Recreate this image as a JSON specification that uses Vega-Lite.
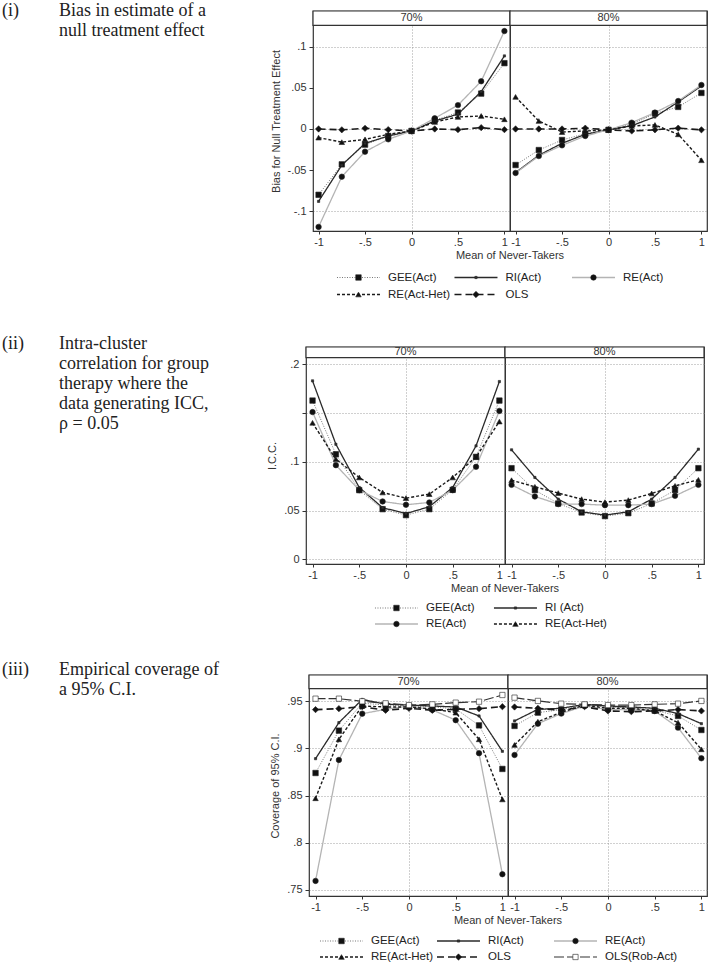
{
"$schema": "https://vega.github.io/schema/vega-lite/v6.json",
"background": "white",
"padding": {"left": 2, "top": 2, "right": 2, "bottom": 2},
"config": {
 "view": {"stroke": "#333", "strokeWidth": 1.2},
 "font": "Liberation Sans",
 "axis": {"labelFont": "Liberation Sans", "labelFontSize": 11, "labelColor": "#333", "titleFont": "Liberation Sans", "titleFontSize": 11, "titleFontWeight": "normal", "titleColor": "#333", "domain": false, "tickColor": "#333", "tickSize": 3, "gridDash": [1, 2], "gridColor": "#888", "gridWidth": 0.8},
 "title": {"font": "Liberation Sans", "fontSize": 11, "fontWeight": "normal", "color": "#333"}
},
"datasets": {
 "T": [
  {"p":"i","part":"num","line":1,"t":"(i)"},
  {"p":"i","part":"desc","line":1,"t":"Bias in estimate of a"},
  {"p":"i","part":"desc","line":2,"t":"null treatment effect"},
  {"p":"ii","part":"num","line":1,"t":"(ii)"},
  {"p":"ii","part":"desc","line":1,"t":"Intra-cluster"},
  {"p":"ii","part":"desc","line":2,"t":"correlation for group"},
  {"p":"ii","part":"desc","line":3,"t":"therapy where the"},
  {"p":"ii","part":"desc","line":4,"t":"data generating ICC,"},
  {"p":"ii","part":"desc","line":5,"t":" ρ = 0.05"},
  {"p":"iii","part":"num","line":1,"t":"(iii)"},
  {"p":"iii","part":"desc","line":1,"t":"Empirical coverage of"},
  {"p":"iii","part":"desc","line":2,"t":"a 95% C.I."}
 ],
 "L": [
  {"p":"i","m":"GEE(Act)","lab":"GEE(Act)","lr":1,"lc":1},
  {"p":"i","m":"RI(Act)","lab":"RI(Act)","lr":1,"lc":2},
  {"p":"i","m":"RE(Act)","lab":"RE(Act)","lr":1,"lc":3},
  {"p":"i","m":"RE(Act-Het)","lab":"RE(Act-Het)","lr":2,"lc":1},
  {"p":"i","m":"OLS","lab":"OLS","lr":2,"lc":2},
  {"p":"ii","m":"GEE(Act)","lab":"GEE(Act)","lr":1,"lc":1},
  {"p":"ii","m":"RI(Act)","lab":"RI (Act)","lr":1,"lc":2},
  {"p":"ii","m":"RE(Act)","lab":"RE(Act)","lr":2,"lc":1},
  {"p":"ii","m":"RE(Act-Het)","lab":"RE(Act-Het)","lr":2,"lc":2},
  {"p":"iii","m":"GEE(Act)","lab":"GEE(Act)","lr":1,"lc":1},
  {"p":"iii","m":"RI(Act)","lab":"RI(Act)","lr":1,"lc":2},
  {"p":"iii","m":"RE(Act)","lab":"RE(Act)","lr":1,"lc":3},
  {"p":"iii","m":"RE(Act-Het)","lab":"RE(Act-Het)","lr":2,"lc":1},
  {"p":"iii","m":"OLS","lab":"OLS","lr":2,"lc":2},
  {"p":"iii","m":"OLS(Rob-Act)","lab":"OLS(Rob-Act)","lr":2,"lc":3}
 ],
 "d": [
  {"p":"i","c":"70%","m":"GEE(Act)","x":-1,"y":-0.080},{"p":"i","c":"70%","m":"GEE(Act)","x":-0.75,"y":-0.043},{"p":"i","c":"70%","m":"GEE(Act)","x":-0.5,"y":-0.019},{"p":"i","c":"70%","m":"GEE(Act)","x":-0.25,"y":-0.0085},{"p":"i","c":"70%","m":"GEE(Act)","x":0,"y":-0.0024},{"p":"i","c":"70%","m":"GEE(Act)","x":0.25,"y":0.0105},{"p":"i","c":"70%","m":"GEE(Act)","x":0.5,"y":0.020},{"p":"i","c":"70%","m":"GEE(Act)","x":0.75,"y":0.043},{"p":"i","c":"70%","m":"GEE(Act)","x":1,"y":0.080},
  {"p":"i","c":"70%","m":"RI(Act)","x":-1,"y":-0.088},{"p":"i","c":"70%","m":"RI(Act)","x":-0.75,"y":-0.044},{"p":"i","c":"70%","m":"RI(Act)","x":-0.5,"y":-0.0175},{"p":"i","c":"70%","m":"RI(Act)","x":-0.25,"y":-0.0085},{"p":"i","c":"70%","m":"RI(Act)","x":0,"y":-0.0024},{"p":"i","c":"70%","m":"RI(Act)","x":0.25,"y":0.0097},{"p":"i","c":"70%","m":"RI(Act)","x":0.5,"y":0.018},{"p":"i","c":"70%","m":"RI(Act)","x":0.75,"y":0.0454},{"p":"i","c":"70%","m":"RI(Act)","x":1,"y":0.0888},
  {"p":"i","c":"70%","m":"RE(Act)","x":-1,"y":-0.119},{"p":"i","c":"70%","m":"RE(Act)","x":-0.75,"y":-0.058},{"p":"i","c":"70%","m":"RE(Act)","x":-0.5,"y":-0.0276},{"p":"i","c":"70%","m":"RE(Act)","x":-0.25,"y":-0.0126},{"p":"i","c":"70%","m":"RE(Act)","x":0,"y":-0.0024},{"p":"i","c":"70%","m":"RE(Act)","x":0.25,"y":0.013},{"p":"i","c":"70%","m":"RE(Act)","x":0.5,"y":0.029},{"p":"i","c":"70%","m":"RE(Act)","x":0.75,"y":0.058},{"p":"i","c":"70%","m":"RE(Act)","x":1,"y":0.119},
  {"p":"i","c":"70%","m":"RE(Act-Het)","x":-1,"y":-0.0105},{"p":"i","c":"70%","m":"RE(Act-Het)","x":-0.75,"y":-0.016},{"p":"i","c":"70%","m":"RE(Act-Het)","x":-0.5,"y":-0.0126},{"p":"i","c":"70%","m":"RE(Act-Het)","x":-0.25,"y":-0.0065},{"p":"i","c":"70%","m":"RE(Act-Het)","x":0,"y":-0.0024},{"p":"i","c":"70%","m":"RE(Act-Het)","x":0.25,"y":0.0085},{"p":"i","c":"70%","m":"RE(Act-Het)","x":0.5,"y":0.0146},{"p":"i","c":"70%","m":"RE(Act-Het)","x":0.75,"y":0.0158},{"p":"i","c":"70%","m":"RE(Act-Het)","x":1,"y":0.0118},
  {"p":"i","c":"70%","m":"OLS","x":-1,"y":0},{"p":"i","c":"70%","m":"OLS","x":-0.75,"y":-0.001},{"p":"i","c":"70%","m":"OLS","x":-0.5,"y":0.0008},{"p":"i","c":"70%","m":"OLS","x":-0.25,"y":-0.0008},{"p":"i","c":"70%","m":"OLS","x":0,"y":-0.0024},{"p":"i","c":"70%","m":"OLS","x":0.25,"y":0},{"p":"i","c":"70%","m":"OLS","x":0.5,"y":-0.0008},{"p":"i","c":"70%","m":"OLS","x":0.75,"y":0.0016},{"p":"i","c":"70%","m":"OLS","x":1,"y":-0.0008},
  {"p":"i","c":"80%","m":"GEE(Act)","x":-1,"y":-0.0438},{"p":"i","c":"80%","m":"GEE(Act)","x":-0.75,"y":-0.0256},{"p":"i","c":"80%","m":"GEE(Act)","x":-0.5,"y":-0.0134},{"p":"i","c":"80%","m":"GEE(Act)","x":-0.25,"y":-0.0057},{"p":"i","c":"80%","m":"GEE(Act)","x":0,"y":-0.001},{"p":"i","c":"80%","m":"GEE(Act)","x":0.25,"y":0.0057},{"p":"i","c":"80%","m":"GEE(Act)","x":0.5,"y":0.0187},{"p":"i","c":"80%","m":"GEE(Act)","x":0.75,"y":0.0268},{"p":"i","c":"80%","m":"GEE(Act)","x":1,"y":0.0438},
  {"p":"i","c":"80%","m":"RI(Act)","x":-1,"y":-0.053},{"p":"i","c":"80%","m":"RI(Act)","x":-0.75,"y":-0.032},{"p":"i","c":"80%","m":"RI(Act)","x":-0.5,"y":-0.0174},{"p":"i","c":"80%","m":"RI(Act)","x":-0.25,"y":-0.0065},{"p":"i","c":"80%","m":"RI(Act)","x":0,"y":-0.001},{"p":"i","c":"80%","m":"RI(Act)","x":0.25,"y":0.004},{"p":"i","c":"80%","m":"RI(Act)","x":0.5,"y":0.0146},{"p":"i","c":"80%","m":"RI(Act)","x":0.75,"y":0.0329},{"p":"i","c":"80%","m":"RI(Act)","x":1,"y":0.0523},
  {"p":"i","c":"80%","m":"RE(Act)","x":-1,"y":-0.0535},{"p":"i","c":"80%","m":"RE(Act)","x":-0.75,"y":-0.0329},{"p":"i","c":"80%","m":"RE(Act)","x":-0.5,"y":-0.0199},{"p":"i","c":"80%","m":"RE(Act)","x":-0.25,"y":-0.0085},{"p":"i","c":"80%","m":"RE(Act)","x":0,"y":-0.001},{"p":"i","c":"80%","m":"RE(Act)","x":0.25,"y":0.0077},{"p":"i","c":"80%","m":"RE(Act)","x":0.5,"y":0.0199},{"p":"i","c":"80%","m":"RE(Act)","x":0.75,"y":0.034},{"p":"i","c":"80%","m":"RE(Act)","x":1,"y":0.0535},
  {"p":"i","c":"80%","m":"RE(Act-Het)","x":-1,"y":0.039},{"p":"i","c":"80%","m":"RE(Act-Het)","x":-0.75,"y":0.0097},{"p":"i","c":"80%","m":"RE(Act-Het)","x":-0.5,"y":-0.0037},{"p":"i","c":"80%","m":"RE(Act-Het)","x":-0.25,"y":-0.0024},{"p":"i","c":"80%","m":"RE(Act-Het)","x":0,"y":-0.001},{"p":"i","c":"80%","m":"RE(Act-Het)","x":0.25,"y":0.0037},{"p":"i","c":"80%","m":"RE(Act-Het)","x":0.5,"y":0.0049},{"p":"i","c":"80%","m":"RE(Act-Het)","x":0.75,"y":-0.0065},{"p":"i","c":"80%","m":"RE(Act-Het)","x":1,"y":-0.038},
  {"p":"i","c":"80%","m":"OLS","x":-1,"y":0},{"p":"i","c":"80%","m":"OLS","x":-0.75,"y":0},{"p":"i","c":"80%","m":"OLS","x":-0.5,"y":0},{"p":"i","c":"80%","m":"OLS","x":-0.25,"y":0.001},{"p":"i","c":"80%","m":"OLS","x":0,"y":-0.001},{"p":"i","c":"80%","m":"OLS","x":0.25,"y":-0.0024},{"p":"i","c":"80%","m":"OLS","x":0.5,"y":-0.001},{"p":"i","c":"80%","m":"OLS","x":0.75,"y":0.001},{"p":"i","c":"80%","m":"OLS","x":1,"y":-0.001},
  {"p":"ii","c":"70%","m":"GEE(Act)","x":-1,"y":0.1628},{"p":"ii","c":"70%","m":"GEE(Act)","x":-0.75,"y":0.1078},{"p":"ii","c":"70%","m":"GEE(Act)","x":-0.5,"y":0.071},{"p":"ii","c":"70%","m":"GEE(Act)","x":-0.25,"y":0.0515},{"p":"ii","c":"70%","m":"GEE(Act)","x":0,"y":0.0454},{"p":"ii","c":"70%","m":"GEE(Act)","x":0.25,"y":0.0515},{"p":"ii","c":"70%","m":"GEE(Act)","x":0.5,"y":0.0713},{"p":"ii","c":"70%","m":"GEE(Act)","x":0.75,"y":0.1051},{"p":"ii","c":"70%","m":"GEE(Act)","x":1,"y":0.1628},
  {"p":"ii","c":"70%","m":"RI(Act)","x":-1,"y":0.183},{"p":"ii","c":"70%","m":"RI(Act)","x":-0.75,"y":0.118},{"p":"ii","c":"70%","m":"RI(Act)","x":-0.5,"y":0.0737},{"p":"ii","c":"70%","m":"RI(Act)","x":-0.25,"y":0.053},{"p":"ii","c":"70%","m":"RI(Act)","x":0,"y":0.047},{"p":"ii","c":"70%","m":"RI(Act)","x":0.25,"y":0.054},{"p":"ii","c":"70%","m":"RI(Act)","x":0.5,"y":0.0737},{"p":"ii","c":"70%","m":"RI(Act)","x":0.75,"y":0.1164},{"p":"ii","c":"70%","m":"RI(Act)","x":1,"y":0.1823},
  {"p":"ii","c":"70%","m":"RE(Act)","x":-1,"y":0.151},{"p":"ii","c":"70%","m":"RE(Act)","x":-0.75,"y":0.0966},{"p":"ii","c":"70%","m":"RE(Act)","x":-0.5,"y":0.071},{"p":"ii","c":"70%","m":"RE(Act)","x":-0.25,"y":0.0594},{"p":"ii","c":"70%","m":"RE(Act)","x":0,"y":0.056},{"p":"ii","c":"70%","m":"RE(Act)","x":0.25,"y":0.0584},{"p":"ii","c":"70%","m":"RE(Act)","x":0.5,"y":0.071},{"p":"ii","c":"70%","m":"RE(Act)","x":0.75,"y":0.0949},{"p":"ii","c":"70%","m":"RE(Act)","x":1,"y":0.1522},
  {"p":"ii","c":"70%","m":"RE(Act-Het)","x":-1,"y":0.140},{"p":"ii","c":"70%","m":"RE(Act-Het)","x":-0.75,"y":0.1027},{"p":"ii","c":"70%","m":"RE(Act-Het)","x":-0.5,"y":0.084},{"p":"ii","c":"70%","m":"RE(Act-Het)","x":-0.25,"y":0.0686},{"p":"ii","c":"70%","m":"RE(Act-Het)","x":0,"y":0.0628},{"p":"ii","c":"70%","m":"RE(Act-Het)","x":0.25,"y":0.0669},{"p":"ii","c":"70%","m":"RE(Act-Het)","x":0.5,"y":0.084},{"p":"ii","c":"70%","m":"RE(Act-Het)","x":0.75,"y":0.105},{"p":"ii","c":"70%","m":"RE(Act-Het)","x":1,"y":0.1413},
  {"p":"ii","c":"80%","m":"GEE(Act)","x":-1,"y":0.0935},{"p":"ii","c":"80%","m":"GEE(Act)","x":-0.75,"y":0.071},{"p":"ii","c":"80%","m":"GEE(Act)","x":-0.5,"y":0.0573},{"p":"ii","c":"80%","m":"GEE(Act)","x":-0.25,"y":0.0481},{"p":"ii","c":"80%","m":"GEE(Act)","x":0,"y":0.0444},{"p":"ii","c":"80%","m":"GEE(Act)","x":0.25,"y":0.0474},{"p":"ii","c":"80%","m":"GEE(Act)","x":0.5,"y":0.0573},{"p":"ii","c":"80%","m":"GEE(Act)","x":0.75,"y":0.071},{"p":"ii","c":"80%","m":"GEE(Act)","x":1,"y":0.0935},
  {"p":"ii","c":"80%","m":"RI(Act)","x":-1,"y":0.1123},{"p":"ii","c":"80%","m":"RI(Act)","x":-0.75,"y":0.084},{"p":"ii","c":"80%","m":"RI(Act)","x":-0.5,"y":0.0618},{"p":"ii","c":"80%","m":"RI(Act)","x":-0.25,"y":0.0488},{"p":"ii","c":"80%","m":"RI(Act)","x":0,"y":0.0454},{"p":"ii","c":"80%","m":"RI(Act)","x":0.25,"y":0.0488},{"p":"ii","c":"80%","m":"RI(Act)","x":0.5,"y":0.0618},{"p":"ii","c":"80%","m":"RI(Act)","x":0.75,"y":0.084},{"p":"ii","c":"80%","m":"RI(Act)","x":1,"y":0.113},
  {"p":"ii","c":"80%","m":"RE(Act)","x":-1,"y":0.0764},{"p":"ii","c":"80%","m":"RE(Act)","x":-0.75,"y":0.0645},{"p":"ii","c":"80%","m":"RE(Act)","x":-0.5,"y":0.0567},{"p":"ii","c":"80%","m":"RE(Act)","x":-0.25,"y":0.0567},{"p":"ii","c":"80%","m":"RE(Act)","x":0,"y":0.0556},{"p":"ii","c":"80%","m":"RE(Act)","x":0.25,"y":0.0556},{"p":"ii","c":"80%","m":"RE(Act)","x":0.5,"y":0.0567},{"p":"ii","c":"80%","m":"RE(Act)","x":0.75,"y":0.0652},{"p":"ii","c":"80%","m":"RE(Act)","x":1,"y":0.0764},
  {"p":"ii","c":"80%","m":"RE(Act-Het)","x":-1,"y":0.0812},{"p":"ii","c":"80%","m":"RE(Act-Het)","x":-0.75,"y":0.0744},{"p":"ii","c":"80%","m":"RE(Act-Het)","x":-0.5,"y":0.068},{"p":"ii","c":"80%","m":"RE(Act-Het)","x":-0.25,"y":0.0618},{"p":"ii","c":"80%","m":"RE(Act-Het)","x":0,"y":0.0587},{"p":"ii","c":"80%","m":"RE(Act-Het)","x":0.25,"y":0.0608},{"p":"ii","c":"80%","m":"RE(Act-Het)","x":0.5,"y":0.0676},{"p":"ii","c":"80%","m":"RE(Act-Het)","x":0.75,"y":0.0754},{"p":"ii","c":"80%","m":"RE(Act-Het)","x":1,"y":0.0816},
  {"p":"iii","c":"70%","m":"GEE(Act)","x":-1,"y":0.874},{"p":"iii","c":"70%","m":"GEE(Act)","x":-0.75,"y":0.9189},{"p":"iii","c":"70%","m":"GEE(Act)","x":-0.5,"y":0.948},{"p":"iii","c":"70%","m":"GEE(Act)","x":-0.25,"y":0.946},{"p":"iii","c":"70%","m":"GEE(Act)","x":0,"y":0.945},{"p":"iii","c":"70%","m":"GEE(Act)","x":0.25,"y":0.944},{"p":"iii","c":"70%","m":"GEE(Act)","x":0.5,"y":0.942},{"p":"iii","c":"70%","m":"GEE(Act)","x":0.75,"y":0.9245},{"p":"iii","c":"70%","m":"GEE(Act)","x":1,"y":0.8783},
  {"p":"iii","c":"70%","m":"RI(Act)","x":-1,"y":0.8892},{"p":"iii","c":"70%","m":"RI(Act)","x":-0.75,"y":0.9274},{"p":"iii","c":"70%","m":"RI(Act)","x":-0.5,"y":0.952},{"p":"iii","c":"70%","m":"RI(Act)","x":-0.25,"y":0.947},{"p":"iii","c":"70%","m":"RI(Act)","x":0,"y":0.946},{"p":"iii","c":"70%","m":"RI(Act)","x":0.25,"y":0.945},{"p":"iii","c":"70%","m":"RI(Act)","x":0.5,"y":0.944},{"p":"iii","c":"70%","m":"RI(Act)","x":0.75,"y":0.9345},{"p":"iii","c":"70%","m":"RI(Act)","x":1,"y":0.897},
  {"p":"iii","c":"70%","m":"RE(Act)","x":-1,"y":0.7596},{"p":"iii","c":"70%","m":"RE(Act)","x":-0.75,"y":0.8878},{"p":"iii","c":"70%","m":"RE(Act)","x":-0.5,"y":0.9369},{"p":"iii","c":"70%","m":"RE(Act)","x":-0.25,"y":0.9415},{"p":"iii","c":"70%","m":"RE(Act)","x":0,"y":0.945},{"p":"iii","c":"70%","m":"RE(Act)","x":0.25,"y":0.941},{"p":"iii","c":"70%","m":"RE(Act)","x":0.5,"y":0.930},{"p":"iii","c":"70%","m":"RE(Act)","x":0.75,"y":0.895},{"p":"iii","c":"70%","m":"RE(Act)","x":1,"y":0.7667},
  {"p":"iii","c":"70%","m":"RE(Act-Het)","x":-1,"y":0.8472},{"p":"iii","c":"70%","m":"RE(Act-Het)","x":-0.75,"y":0.9097},{"p":"iii","c":"70%","m":"RE(Act-Het)","x":-0.5,"y":0.945},{"p":"iii","c":"70%","m":"RE(Act-Het)","x":-0.25,"y":0.944},{"p":"iii","c":"70%","m":"RE(Act-Het)","x":0,"y":0.944},{"p":"iii","c":"70%","m":"RE(Act-Het)","x":0.25,"y":0.942},{"p":"iii","c":"70%","m":"RE(Act-Het)","x":0.5,"y":0.938},{"p":"iii","c":"70%","m":"RE(Act-Het)","x":0.75,"y":0.9097},{"p":"iii","c":"70%","m":"RE(Act-Het)","x":1,"y":0.846},
  {"p":"iii","c":"70%","m":"OLS","x":-1,"y":0.9412},{"p":"iii","c":"70%","m":"OLS","x":-0.75,"y":0.9422},{"p":"iii","c":"70%","m":"OLS","x":-0.5,"y":0.9443},{"p":"iii","c":"70%","m":"OLS","x":-0.25,"y":0.9405},{"p":"iii","c":"70%","m":"OLS","x":0,"y":0.9426},{"p":"iii","c":"70%","m":"OLS","x":0.25,"y":0.9405},{"p":"iii","c":"70%","m":"OLS","x":0.5,"y":0.9415},{"p":"iii","c":"70%","m":"OLS","x":0.75,"y":0.9422},{"p":"iii","c":"70%","m":"OLS","x":1,"y":0.9443},
  {"p":"iii","c":"70%","m":"OLS(Rob-Act)","x":-1,"y":0.9528},{"p":"iii","c":"70%","m":"OLS(Rob-Act)","x":-0.75,"y":0.9528},{"p":"iii","c":"70%","m":"OLS(Rob-Act)","x":-0.5,"y":0.950},{"p":"iii","c":"70%","m":"OLS(Rob-Act)","x":-0.25,"y":0.9479},{"p":"iii","c":"70%","m":"OLS(Rob-Act)","x":0,"y":0.946},{"p":"iii","c":"70%","m":"OLS(Rob-Act)","x":0.25,"y":0.9468},{"p":"iii","c":"70%","m":"OLS(Rob-Act)","x":0.5,"y":0.9486},{"p":"iii","c":"70%","m":"OLS(Rob-Act)","x":0.75,"y":0.9496},{"p":"iii","c":"70%","m":"OLS(Rob-Act)","x":1,"y":0.9567},
  {"p":"iii","c":"80%","m":"GEE(Act)","x":-1,"y":0.9239},{"p":"iii","c":"80%","m":"GEE(Act)","x":-0.75,"y":0.938},{"p":"iii","c":"80%","m":"GEE(Act)","x":-0.5,"y":0.9412},{"p":"iii","c":"80%","m":"GEE(Act)","x":-0.25,"y":0.946},{"p":"iii","c":"80%","m":"GEE(Act)","x":0,"y":0.944},{"p":"iii","c":"80%","m":"GEE(Act)","x":0.25,"y":0.943},{"p":"iii","c":"80%","m":"GEE(Act)","x":0.5,"y":0.9405},{"p":"iii","c":"80%","m":"GEE(Act)","x":0.75,"y":0.9345},{"p":"iii","c":"80%","m":"GEE(Act)","x":1,"y":0.9196},
  {"p":"iii","c":"80%","m":"RI(Act)","x":-1,"y":0.9292},{"p":"iii","c":"80%","m":"RI(Act)","x":-0.75,"y":0.9415},{"p":"iii","c":"80%","m":"RI(Act)","x":-0.5,"y":0.9426},{"p":"iii","c":"80%","m":"RI(Act)","x":-0.25,"y":0.9468},{"p":"iii","c":"80%","m":"RI(Act)","x":0,"y":0.945},{"p":"iii","c":"80%","m":"RI(Act)","x":0.25,"y":0.944},{"p":"iii","c":"80%","m":"RI(Act)","x":0.5,"y":0.9426},{"p":"iii","c":"80%","m":"RI(Act)","x":0.75,"y":0.937},{"p":"iii","c":"80%","m":"RI(Act)","x":1,"y":0.9263},
  {"p":"iii","c":"80%","m":"RE(Act)","x":-1,"y":0.8931},{"p":"iii","c":"80%","m":"RE(Act)","x":-0.75,"y":0.9263},{"p":"iii","c":"80%","m":"RE(Act)","x":-0.5,"y":0.937},{"p":"iii","c":"80%","m":"RE(Act)","x":-0.25,"y":0.945},{"p":"iii","c":"80%","m":"RE(Act)","x":0,"y":0.9412},{"p":"iii","c":"80%","m":"RE(Act)","x":0.25,"y":0.9412},{"p":"iii","c":"80%","m":"RE(Act)","x":0.5,"y":0.9398},{"p":"iii","c":"80%","m":"RE(Act)","x":0.75,"y":0.9221},{"p":"iii","c":"80%","m":"RE(Act)","x":1,"y":0.8896},
  {"p":"iii","c":"80%","m":"RE(Act-Het)","x":-1,"y":0.9037},{"p":"iii","c":"80%","m":"RE(Act-Het)","x":-0.75,"y":0.9284},{"p":"iii","c":"80%","m":"RE(Act-Het)","x":-0.5,"y":0.9384},{"p":"iii","c":"80%","m":"RE(Act-Het)","x":-0.25,"y":0.946},{"p":"iii","c":"80%","m":"RE(Act-Het)","x":0,"y":0.9426},{"p":"iii","c":"80%","m":"RE(Act-Het)","x":0.25,"y":0.9426},{"p":"iii","c":"80%","m":"RE(Act-Het)","x":0.5,"y":0.9398},{"p":"iii","c":"80%","m":"RE(Act-Het)","x":0.75,"y":0.9274},{"p":"iii","c":"80%","m":"RE(Act-Het)","x":1,"y":0.8991},
  {"p":"iii","c":"80%","m":"OLS","x":-1,"y":0.944},{"p":"iii","c":"80%","m":"OLS","x":-0.75,"y":0.9426},{"p":"iii","c":"80%","m":"OLS","x":-0.5,"y":0.9405},{"p":"iii","c":"80%","m":"OLS","x":-0.25,"y":0.9443},{"p":"iii","c":"80%","m":"OLS","x":0,"y":0.9398},{"p":"iii","c":"80%","m":"OLS","x":0.25,"y":0.939},{"p":"iii","c":"80%","m":"OLS","x":0.5,"y":0.9398},{"p":"iii","c":"80%","m":"OLS","x":0.75,"y":0.9412},{"p":"iii","c":"80%","m":"OLS","x":1,"y":0.9398},
  {"p":"iii","c":"80%","m":"OLS(Rob-Act)","x":-1,"y":0.9539},{"p":"iii","c":"80%","m":"OLS(Rob-Act)","x":-0.75,"y":0.9504},{"p":"iii","c":"80%","m":"OLS(Rob-Act)","x":-0.5,"y":0.9475},{"p":"iii","c":"80%","m":"OLS(Rob-Act)","x":-0.25,"y":0.9468},{"p":"iii","c":"80%","m":"OLS(Rob-Act)","x":0,"y":0.946},{"p":"iii","c":"80%","m":"OLS(Rob-Act)","x":0.25,"y":0.946},{"p":"iii","c":"80%","m":"OLS(Rob-Act)","x":0.5,"y":0.9468},{"p":"iii","c":"80%","m":"OLS(Rob-Act)","x":0.75,"y":0.9475},{"p":"iii","c":"80%","m":"OLS(Rob-Act)","x":1,"y":0.9504}
 ]
},
"spacing": 32,
"vconcat": [
 {"spacing": 39, "hconcat": [
  {"width": 228, "height": 20, "view": {"stroke": null}, "data": {"name": "T"}, "transform": [{"filter": "datum.p == 'i'"}],
   "mark": {"type": "text", "align": "left", "baseline": "middle", "font": "Liberation Serif", "fontSize": 18, "color": "#222"},
   "encoding": {"x": {"field": "part", "type": "nominal", "scale": {"type": "point", "domain": ["num", "desc"], "range": [0, 57], "padding": 0}, "axis": null}, "y": {"field": "line", "type": "ordinal", "scale": {"type": "point", "padding": 0}, "axis": null}, "text": {"field": "t"}}},
  {"spacing": 2, "vconcat": [
   {"spacing": 0, "bounds": "flush", "hconcat": [
    {"width": 197, "height": 220, "data": {"name": "d"}, "layer": [
     {"transform": [{"filter": "datum.p == 'i' && datum.c == '70%'"}], "mark": {"type": "line"},
      "encoding": {
       "x": {"field": "x", "type": "quantitative", "scale": {"domain": [-1.06, 1.06], "nice": false, "zero": false}, "axis": {"values": [-1, -0.5, 0, 0.5, 1], "labelExpr": "replace(''+datum.value, '0.', '.')", "title": null, "grid": true, "gridOpacity": {"condition": {"test": "datum.value == 0", "value": 1}, "value": 0}, "labelPadding": 2}},
       "y": {"field": "y", "type": "quantitative", "scale": {"domain": [-0.124, 0.1434], "nice": false, "zero": false}, "axis": {"values": [-0.1, -0.075, -0.05, -0.025, 0, 0.025, 0.05, 0.075, 0.1], "labelExpr": "abs(datum.value*20 - round(datum.value*20)) < 0.001 ? replace(''+datum.value, '0.', '.') : ''", "title": "Bias for Null Treatment Effect", "grid": true, "gridOpacity": {"condition": {"test": "abs(datum.value*10 - round(datum.value*10)) < 0.001", "value": 1}, "value": 0}, "tickSize": 4, "labelPadding": 3, "titlePadding": 6}},
       "stroke": {"field": "m", "type": "nominal", "legend": null, "scale": {"domain": ["GEE(Act)", "RI(Act)", "RE(Act)", "RE(Act-Het)", "OLS", "OLS(Rob-Act)"], "range": ["#777", "#2a2a2a", "#b4b4b4", "#1a1a1a", "#1a1a1a", "#333"]}},
       "strokeDash": {"field": "m", "type": "nominal", "legend": null, "scale": {"domain": ["GEE(Act)", "RI(Act)", "RE(Act)", "RE(Act-Het)", "OLS", "OLS(Rob-Act)"], "range": [[1, 1.5], [1, 0], [1, 0], [3, 2], [7, 4], [10, 3]]}},
       "strokeWidth": {"field": "m", "type": "nominal", "legend": null, "scale": {"type": "ordinal", "domain": ["GEE(Act)", "RI(Act)", "RE(Act)", "RE(Act-Het)", "OLS", "OLS(Rob-Act)"], "range": [1, 1.3, 1.3, 1.4, 1.6, 1.2]}}
      }},
     {"transform": [{"filter": "datum.p == 'i' && datum.c == '70%'"}], "mark": {"type": "point", "filled": true, "opacity": 1, "stroke": "#222", "strokeWidth": 0.6},
      "encoding": {
       "x": {"field": "x", "type": "quantitative"},
       "y": {"field": "y", "type": "quantitative"},
       "shape": {"field": "m", "type": "nominal", "legend": null, "scale": {"domain": ["GEE(Act)", "RI(Act)", "RE(Act)", "RE(Act-Het)", "OLS", "OLS(Rob-Act)"], "range": ["square", "square", "circle", "triangle-up", "diamond", "square"]}},
       "fill": {"field": "m", "type": "nominal", "legend": null, "scale": {"domain": ["GEE(Act)", "RI(Act)", "RE(Act)", "RE(Act-Het)", "OLS", "OLS(Rob-Act)"], "range": ["#111", "#333", "#111", "#111", "#111", "white"]}},
       "size": {"field": "m", "type": "nominal", "legend": null, "scale": {"type": "ordinal", "domain": ["GEE(Act)", "RI(Act)", "RE(Act)", "RE(Act-Het)", "OLS", "OLS(Rob-Act)"], "range": [30, 5, 30, 30, 40, 28]}}
      }},
     {"data": {"values": [{"s": "70%"}]}, "mark": {"type": "rect", "fill": "white", "stroke": "#333", "strokeWidth": 1.2}, "encoding": {"y": {"datum": 0.126}, "y2": {"datum": 0.1434}}},
     {"data": {"values": [{"s": "70%"}]}, "mark": {"type": "text", "fontSize": 11, "color": "#333", "baseline": "middle"}, "encoding": {"y": {"datum": 0.1347}, "text": {"field": "s"}}}
    ]},
    {"width": 197, "height": 220, "data": {"name": "d"}, "layer": [
     {"transform": [{"filter": "datum.p == 'i' && datum.c == '80%'"}], "mark": {"type": "line"},
      "encoding": {
       "x": {"field": "x", "type": "quantitative", "scale": {"domain": [-1.06, 1.06], "nice": false, "zero": false}, "axis": {"values": [-1, -0.5, 0, 0.5, 1], "labelExpr": "replace(''+datum.value, '0.', '.')", "title": null, "grid": true, "gridOpacity": {"condition": {"test": "datum.value == 0", "value": 1}, "value": 0}, "labelPadding": 2}},
       "y": {"field": "y", "type": "quantitative", "scale": {"domain": [-0.124, 0.1434], "nice": false, "zero": false}, "axis": {"values": [-0.1, -0.075, -0.05, -0.025, 0, 0.025, 0.05, 0.075, 0.1], "labels": false, "ticks": false, "title": null, "grid": true, "gridOpacity": {"condition": {"test": "abs(datum.value*10 - round(datum.value*10)) < 0.001", "value": 1}, "value": 0}}},
       "stroke": {"field": "m", "type": "nominal", "legend": null, "scale": {"domain": ["GEE(Act)", "RI(Act)", "RE(Act)", "RE(Act-Het)", "OLS", "OLS(Rob-Act)"], "range": ["#777", "#2a2a2a", "#b4b4b4", "#1a1a1a", "#1a1a1a", "#333"]}},
       "strokeDash": {"field": "m", "type": "nominal", "legend": null, "scale": {"domain": ["GEE(Act)", "RI(Act)", "RE(Act)", "RE(Act-Het)", "OLS", "OLS(Rob-Act)"], "range": [[1, 1.5], [1, 0], [1, 0], [3, 2], [7, 4], [10, 3]]}},
       "strokeWidth": {"field": "m", "type": "nominal", "legend": null, "scale": {"type": "ordinal", "domain": ["GEE(Act)", "RI(Act)", "RE(Act)", "RE(Act-Het)", "OLS", "OLS(Rob-Act)"], "range": [1, 1.3, 1.3, 1.4, 1.6, 1.2]}}
      }},
     {"transform": [{"filter": "datum.p == 'i' && datum.c == '80%'"}], "mark": {"type": "point", "filled": true, "opacity": 1, "stroke": "#222", "strokeWidth": 0.6},
      "encoding": {
       "x": {"field": "x", "type": "quantitative"},
       "y": {"field": "y", "type": "quantitative"},
       "shape": {"field": "m", "type": "nominal", "legend": null, "scale": {"domain": ["GEE(Act)", "RI(Act)", "RE(Act)", "RE(Act-Het)", "OLS", "OLS(Rob-Act)"], "range": ["square", "square", "circle", "triangle-up", "diamond", "square"]}},
       "fill": {"field": "m", "type": "nominal", "legend": null, "scale": {"domain": ["GEE(Act)", "RI(Act)", "RE(Act)", "RE(Act-Het)", "OLS", "OLS(Rob-Act)"], "range": ["#111", "#333", "#111", "#111", "#111", "white"]}},
       "size": {"field": "m", "type": "nominal", "legend": null, "scale": {"type": "ordinal", "domain": ["GEE(Act)", "RI(Act)", "RE(Act)", "RE(Act-Het)", "OLS", "OLS(Rob-Act)"], "range": [30, 5, 30, 30, 40, 28]}}
      }},
     {"data": {"values": [{"s": "80%"}]}, "mark": {"type": "rect", "fill": "white", "stroke": "#333", "strokeWidth": 1.2}, "encoding": {"y": {"datum": 0.126}, "y2": {"datum": 0.1434}}},
     {"data": {"values": [{"s": "80%"}]}, "mark": {"type": "text", "fontSize": 11, "color": "#333", "baseline": "middle"}, "encoding": {"y": {"datum": 0.1347}, "text": {"field": "s"}}}
    ]}
   ]},
   {"width": 394, "height": 34, "view": {"stroke": null},
    "title": {"text": "Mean of Never-Takers", "orient": "top", "anchor": "middle", "offset": 8},
    "data": {"name": "L"}, "transform": [{"filter": "datum.p == 'i'"}],
    "encoding": {
     "x": {"field": "lc", "type": "ordinal", "scale": {"type": "band", "paddingInner": 0, "paddingOuter": 0.1766, "align": 0.578}, "axis": null},
     "y": {"field": "lr", "type": "ordinal", "scale": {"type": "band", "paddingInner": 0, "paddingOuter": 0}, "axis": null}
    },
    "layer": [
     {"mark": {"type": "rule", "xOffset": -58.75, "x2Offset": -15.75},
      "encoding": {"x2": {"field": "lc"},
       "stroke": {"field": "m", "type": "nominal", "legend": null, "scale": {"domain": ["GEE(Act)", "RI(Act)", "RE(Act)", "RE(Act-Het)", "OLS", "OLS(Rob-Act)"], "range": ["#777", "#2a2a2a", "#b4b4b4", "#1a1a1a", "#1a1a1a", "#333"]}},
       "strokeDash": {"field": "m", "type": "nominal", "legend": null, "scale": {"domain": ["GEE(Act)", "RI(Act)", "RE(Act)", "RE(Act-Het)", "OLS", "OLS(Rob-Act)"], "range": [[1, 1.5], [1, 0], [1, 0], [3, 2], [7, 4], [10, 3]]}},
       "strokeWidth": {"field": "m", "type": "nominal", "legend": null, "scale": {"type": "ordinal", "domain": ["GEE(Act)", "RI(Act)", "RE(Act)", "RE(Act-Het)", "OLS", "OLS(Rob-Act)"], "range": [1, 1.3, 1.3, 1.4, 1.6, 1.2]}}}},
     {"mark": {"type": "point", "filled": true, "opacity": 1, "stroke": "#222", "strokeWidth": 0.6, "xOffset": -37.25},
      "encoding": {
       "shape": {"field": "m", "type": "nominal", "legend": null, "scale": {"domain": ["GEE(Act)", "RI(Act)", "RE(Act)", "RE(Act-Het)", "OLS", "OLS(Rob-Act)"], "range": ["square", "square", "circle", "triangle-up", "diamond", "square"]}},
       "fill": {"field": "m", "type": "nominal", "legend": null, "scale": {"domain": ["GEE(Act)", "RI(Act)", "RE(Act)", "RE(Act-Het)", "OLS", "OLS(Rob-Act)"], "range": ["#111", "#333", "#111", "#111", "#111", "white"]}},
       "size": {"field": "m", "type": "nominal", "legend": null, "scale": {"type": "ordinal", "domain": ["GEE(Act)", "RI(Act)", "RE(Act)", "RE(Act-Het)", "OLS", "OLS(Rob-Act)"], "range": [30, 5, 30, 30, 40, 28]}}}},
     {"mark": {"type": "text", "align": "left", "baseline": "middle", "xOffset": -7.75, "fontSize": 11.5, "color": "#222"}, "encoding": {"text": {"field": "lab"}}}
    ]}
  ]}
 ]},
 {"spacing": 29, "vconcat": [
 {"spacing": 39, "hconcat": [
  {"width": 225, "height": 80, "view": {"stroke": null}, "data": {"name": "T"}, "transform": [{"filter": "datum.p == 'ii'"}],
   "mark": {"type": "text", "align": "left", "baseline": "middle", "font": "Liberation Serif", "fontSize": 18, "color": "#222", "yOffset": -3},
   "encoding": {"x": {"field": "part", "type": "nominal", "scale": {"type": "point", "domain": ["num", "desc"], "range": [0, 57], "padding": 0}, "axis": null}, "y": {"field": "line", "type": "ordinal", "scale": {"type": "point", "padding": 0}, "axis": null}, "text": {"field": "t"}}},
  {"spacing": 2, "vconcat": [
   {"spacing": 0, "bounds": "flush", "hconcat": [
    {"width": 199, "height": 217, "data": {"name": "d"}, "layer": [
     {"transform": [{"filter": "datum.p == 'ii' && datum.c == '70%'"}], "mark": {"type": "line"},
      "encoding": {
       "x": {"field": "x", "type": "quantitative", "scale": {"domain": [-1.07, 1.06], "nice": false, "zero": false}, "axis": {"values": [-1, -0.5, 0, 0.5, 1], "labelExpr": "replace(''+datum.value, '0.', '.')", "title": null, "grid": true, "gridOpacity": {"condition": {"test": "datum.value == 0", "value": 1}, "value": 0}, "labelPadding": 2}},
       "y": {"field": "y", "type": "quantitative", "scale": {"domain": [-0.0047, 0.2177], "nice": false, "zero": false}, "axis": {"values": [0, 0.05, 0.1, 0.15, 0.2], "labelExpr": "datum.value == 0.15 ? '' : replace(''+datum.value, '0.', '.')", "title": "I.C.C.", "grid": true, "tickSize": 4, "labelPadding": 3, "titlePadding": 6}},
       "stroke": {"field": "m", "type": "nominal", "legend": null, "scale": {"domain": ["GEE(Act)", "RI(Act)", "RE(Act)", "RE(Act-Het)", "OLS", "OLS(Rob-Act)"], "range": ["#777", "#2a2a2a", "#b4b4b4", "#1a1a1a", "#1a1a1a", "#333"]}},
       "strokeDash": {"field": "m", "type": "nominal", "legend": null, "scale": {"domain": ["GEE(Act)", "RI(Act)", "RE(Act)", "RE(Act-Het)", "OLS", "OLS(Rob-Act)"], "range": [[1, 1.5], [1, 0], [1, 0], [3, 2], [7, 4], [10, 3]]}},
       "strokeWidth": {"field": "m", "type": "nominal", "legend": null, "scale": {"type": "ordinal", "domain": ["GEE(Act)", "RI(Act)", "RE(Act)", "RE(Act-Het)", "OLS", "OLS(Rob-Act)"], "range": [1, 1.3, 1.3, 1.4, 1.6, 1.2]}}
      }},
     {"transform": [{"filter": "datum.p == 'ii' && datum.c == '70%'"}], "mark": {"type": "point", "filled": true, "opacity": 1, "stroke": "#222", "strokeWidth": 0.6},
      "encoding": {
       "x": {"field": "x", "type": "quantitative"},
       "y": {"field": "y", "type": "quantitative"},
       "shape": {"field": "m", "type": "nominal", "legend": null, "scale": {"domain": ["GEE(Act)", "RI(Act)", "RE(Act)", "RE(Act-Het)", "OLS", "OLS(Rob-Act)"], "range": ["square", "square", "circle", "triangle-up", "diamond", "square"]}},
       "fill": {"field": "m", "type": "nominal", "legend": null, "scale": {"domain": ["GEE(Act)", "RI(Act)", "RE(Act)", "RE(Act-Het)", "OLS", "OLS(Rob-Act)"], "range": ["#111", "#333", "#111", "#111", "#111", "white"]}},
       "size": {"field": "m", "type": "nominal", "legend": null, "scale": {"type": "ordinal", "domain": ["GEE(Act)", "RI(Act)", "RE(Act)", "RE(Act-Het)", "OLS", "OLS(Rob-Act)"], "range": [30, 5, 30, 30, 40, 28]}}
      }},
     {"data": {"values": [{"s": "70%"}]}, "mark": {"type": "rect", "fill": "white", "stroke": "#333", "strokeWidth": 1.2}, "encoding": {"y": {"datum": 0.2068}, "y2": {"datum": 0.2177}}},
     {"data": {"values": [{"s": "70%"}]}, "mark": {"type": "text", "fontSize": 11, "color": "#333", "baseline": "middle"}, "encoding": {"y": {"datum": 0.2122}, "text": {"field": "s"}}}
    ]},
    {"width": 199, "height": 217, "data": {"name": "d"}, "layer": [
     {"transform": [{"filter": "datum.p == 'ii' && datum.c == '80%'"}], "mark": {"type": "line"},
      "encoding": {
       "x": {"field": "x", "type": "quantitative", "scale": {"domain": [-1.07, 1.06], "nice": false, "zero": false}, "axis": {"values": [-1, -0.5, 0, 0.5, 1], "labelExpr": "replace(''+datum.value, '0.', '.')", "title": null, "grid": true, "gridOpacity": {"condition": {"test": "datum.value == 0", "value": 1}, "value": 0}, "labelPadding": 2}},
       "y": {"field": "y", "type": "quantitative", "scale": {"domain": [-0.0047, 0.2177], "nice": false, "zero": false}, "axis": {"values": [0, 0.05, 0.1, 0.15, 0.2], "labels": false, "ticks": false, "title": null, "grid": true}},
       "stroke": {"field": "m", "type": "nominal", "legend": null, "scale": {"domain": ["GEE(Act)", "RI(Act)", "RE(Act)", "RE(Act-Het)", "OLS", "OLS(Rob-Act)"], "range": ["#777", "#2a2a2a", "#b4b4b4", "#1a1a1a", "#1a1a1a", "#333"]}},
       "strokeDash": {"field": "m", "type": "nominal", "legend": null, "scale": {"domain": ["GEE(Act)", "RI(Act)", "RE(Act)", "RE(Act-Het)", "OLS", "OLS(Rob-Act)"], "range": [[1, 1.5], [1, 0], [1, 0], [3, 2], [7, 4], [10, 3]]}},
       "strokeWidth": {"field": "m", "type": "nominal", "legend": null, "scale": {"type": "ordinal", "domain": ["GEE(Act)", "RI(Act)", "RE(Act)", "RE(Act-Het)", "OLS", "OLS(Rob-Act)"], "range": [1, 1.3, 1.3, 1.4, 1.6, 1.2]}}
      }},
     {"transform": [{"filter": "datum.p == 'ii' && datum.c == '80%'"}], "mark": {"type": "point", "filled": true, "opacity": 1, "stroke": "#222", "strokeWidth": 0.6},
      "encoding": {
       "x": {"field": "x", "type": "quantitative"},
       "y": {"field": "y", "type": "quantitative"},
       "shape": {"field": "m", "type": "nominal", "legend": null, "scale": {"domain": ["GEE(Act)", "RI(Act)", "RE(Act)", "RE(Act-Het)", "OLS", "OLS(Rob-Act)"], "range": ["square", "square", "circle", "triangle-up", "diamond", "square"]}},
       "fill": {"field": "m", "type": "nominal", "legend": null, "scale": {"domain": ["GEE(Act)", "RI(Act)", "RE(Act)", "RE(Act-Het)", "OLS", "OLS(Rob-Act)"], "range": ["#111", "#333", "#111", "#111", "#111", "white"]}},
       "size": {"field": "m", "type": "nominal", "legend": null, "scale": {"type": "ordinal", "domain": ["GEE(Act)", "RI(Act)", "RE(Act)", "RE(Act-Het)", "OLS", "OLS(Rob-Act)"], "range": [30, 5, 30, 30, 40, 28]}}
      }},
     {"data": {"values": [{"s": "80%"}]}, "mark": {"type": "rect", "fill": "white", "stroke": "#333", "strokeWidth": 1.2}, "encoding": {"y": {"datum": 0.2068}, "y2": {"datum": 0.2177}}},
     {"data": {"values": [{"s": "80%"}]}, "mark": {"type": "text", "fontSize": 11, "color": "#333", "baseline": "middle"}, "encoding": {"y": {"datum": 0.2122}, "text": {"field": "s"}}}
    ]}
   ]},
   {"width": 398, "height": 32, "view": {"stroke": null},
    "title": {"text": "Mean of Never-Takers", "orient": "top", "anchor": "middle", "offset": 6},
    "data": {"name": "L"}, "transform": [{"filter": "datum.p == 'ii'"}],
    "encoding": {
     "x": {"field": "lc", "type": "ordinal", "scale": {"type": "band", "paddingInner": 0, "paddingOuter": 0.6723, "align": 0.431}, "axis": null},
     "y": {"field": "lr", "type": "ordinal", "scale": {"type": "band", "paddingInner": 0, "paddingOuter": 0}, "axis": null}
    },
    "layer": [
     {"mark": {"type": "rule", "xOffset": -59.5, "x2Offset": -16.5},
      "encoding": {"x2": {"field": "lc"},
       "stroke": {"field": "m", "type": "nominal", "legend": null, "scale": {"domain": ["GEE(Act)", "RI(Act)", "RE(Act)", "RE(Act-Het)", "OLS", "OLS(Rob-Act)"], "range": ["#777", "#2a2a2a", "#b4b4b4", "#1a1a1a", "#1a1a1a", "#333"]}},
       "strokeDash": {"field": "m", "type": "nominal", "legend": null, "scale": {"domain": ["GEE(Act)", "RI(Act)", "RE(Act)", "RE(Act-Het)", "OLS", "OLS(Rob-Act)"], "range": [[1, 1.5], [1, 0], [1, 0], [3, 2], [7, 4], [10, 3]]}},
       "strokeWidth": {"field": "m", "type": "nominal", "legend": null, "scale": {"type": "ordinal", "domain": ["GEE(Act)", "RI(Act)", "RE(Act)", "RE(Act-Het)", "OLS", "OLS(Rob-Act)"], "range": [1, 1.3, 1.3, 1.4, 1.6, 1.2]}}}},
     {"mark": {"type": "point", "filled": true, "opacity": 1, "stroke": "#222", "strokeWidth": 0.6, "xOffset": -38},
      "encoding": {
       "shape": {"field": "m", "type": "nominal", "legend": null, "scale": {"domain": ["GEE(Act)", "RI(Act)", "RE(Act)", "RE(Act-Het)", "OLS", "OLS(Rob-Act)"], "range": ["square", "square", "circle", "triangle-up", "diamond", "square"]}},
       "fill": {"field": "m", "type": "nominal", "legend": null, "scale": {"domain": ["GEE(Act)", "RI(Act)", "RE(Act)", "RE(Act-Het)", "OLS", "OLS(Rob-Act)"], "range": ["#111", "#333", "#111", "#111", "#111", "white"]}},
       "size": {"field": "m", "type": "nominal", "legend": null, "scale": {"type": "ordinal", "domain": ["GEE(Act)", "RI(Act)", "RE(Act)", "RE(Act-Het)", "OLS", "OLS(Rob-Act)"], "range": [30, 5, 30, 30, 40, 28]}}}},
     {"mark": {"type": "text", "align": "left", "baseline": "middle", "xOffset": -8.5, "fontSize": 11.5, "color": "#222"}, "encoding": {"text": {"field": "lab"}}}
    ]}
  ]}
 ]},
 {"spacing": 39, "hconcat": [
  {"width": 228, "height": 20, "view": {"stroke": null}, "data": {"name": "T"}, "transform": [{"filter": "datum.p == 'iii'"}],
   "mark": {"type": "text", "align": "left", "baseline": "middle", "font": "Liberation Serif", "fontSize": 18, "color": "#222", "yOffset": -5},
   "encoding": {"x": {"field": "part", "type": "nominal", "scale": {"type": "point", "domain": ["num", "desc"], "range": [0, 57], "padding": 0}, "axis": null}, "y": {"field": "line", "type": "ordinal", "scale": {"type": "point", "padding": 0}, "axis": null}, "text": {"field": "t"}}},
  {"spacing": 2, "vconcat": [
   {"spacing": 0, "bounds": "flush", "hconcat": [
    {"width": 199, "height": 221, "data": {"name": "d"}, "layer": [
     {"transform": [{"filter": "datum.p == 'iii' && datum.c == '70%'"}], "mark": {"type": "line"},
      "encoding": {
       "x": {"field": "x", "type": "quantitative", "scale": {"domain": [-1.07, 1.06], "nice": false, "zero": false}, "axis": {"values": [-1, -0.5, 0, 0.5, 1], "labelExpr": "replace(''+datum.value, '0.', '.')", "title": null, "grid": true, "gridOpacity": {"condition": {"test": "datum.value == 0", "value": 1}, "value": 0}, "labelPadding": 2}},
       "y": {"field": "y", "type": "quantitative", "scale": {"domain": [0.7436, 0.9779], "nice": false, "zero": false}, "axis": {"values": [0.75, 0.8, 0.85, 0.9, 0.95], "labelExpr": "replace(''+datum.value, '0.', '.')", "title": "Coverage of 95% C.I.", "grid": true, "tickSize": 4, "labelPadding": 3, "titlePadding": 6}},
       "stroke": {"field": "m", "type": "nominal", "legend": null, "scale": {"domain": ["GEE(Act)", "RI(Act)", "RE(Act)", "RE(Act-Het)", "OLS", "OLS(Rob-Act)"], "range": ["#777", "#2a2a2a", "#b4b4b4", "#1a1a1a", "#1a1a1a", "#333"]}},
       "strokeDash": {"field": "m", "type": "nominal", "legend": null, "scale": {"domain": ["GEE(Act)", "RI(Act)", "RE(Act)", "RE(Act-Het)", "OLS", "OLS(Rob-Act)"], "range": [[1, 1.5], [1, 0], [1, 0], [3, 2], [7, 4], [10, 3]]}},
       "strokeWidth": {"field": "m", "type": "nominal", "legend": null, "scale": {"type": "ordinal", "domain": ["GEE(Act)", "RI(Act)", "RE(Act)", "RE(Act-Het)", "OLS", "OLS(Rob-Act)"], "range": [1, 1.3, 1.3, 1.4, 1.6, 1.2]}}
      }},
     {"transform": [{"filter": "datum.p == 'iii' && datum.c == '70%'"}], "mark": {"type": "point", "filled": true, "opacity": 1, "stroke": "#222", "strokeWidth": 0.6},
      "encoding": {
       "x": {"field": "x", "type": "quantitative"},
       "y": {"field": "y", "type": "quantitative"},
       "shape": {"field": "m", "type": "nominal", "legend": null, "scale": {"domain": ["GEE(Act)", "RI(Act)", "RE(Act)", "RE(Act-Het)", "OLS", "OLS(Rob-Act)"], "range": ["square", "square", "circle", "triangle-up", "diamond", "square"]}},
       "fill": {"field": "m", "type": "nominal", "legend": null, "scale": {"domain": ["GEE(Act)", "RI(Act)", "RE(Act)", "RE(Act-Het)", "OLS", "OLS(Rob-Act)"], "range": ["#111", "#333", "#111", "#111", "#111", "white"]}},
       "size": {"field": "m", "type": "nominal", "legend": null, "scale": {"type": "ordinal", "domain": ["GEE(Act)", "RI(Act)", "RE(Act)", "RE(Act-Het)", "OLS", "OLS(Rob-Act)"], "range": [30, 5, 30, 30, 40, 28]}}
      }},
     {"data": {"values": [{"s": "70%"}]}, "mark": {"type": "rect", "fill": "white", "stroke": "#333", "strokeWidth": 1.2}, "encoding": {"y": {"datum": 0.9635}, "y2": {"datum": 0.9779}}},
     {"data": {"values": [{"s": "70%"}]}, "mark": {"type": "text", "fontSize": 11, "color": "#333", "baseline": "middle"}, "encoding": {"y": {"datum": 0.9707}, "text": {"field": "s"}}}
    ]},
    {"width": 199, "height": 221, "data": {"name": "d"}, "layer": [
     {"transform": [{"filter": "datum.p == 'iii' && datum.c == '80%'"}], "mark": {"type": "line"},
      "encoding": {
       "x": {"field": "x", "type": "quantitative", "scale": {"domain": [-1.07, 1.06], "nice": false, "zero": false}, "axis": {"values": [-1, -0.5, 0, 0.5, 1], "labelExpr": "replace(''+datum.value, '0.', '.')", "title": null, "grid": true, "gridOpacity": {"condition": {"test": "datum.value == 0", "value": 1}, "value": 0}, "labelPadding": 2}},
       "y": {"field": "y", "type": "quantitative", "scale": {"domain": [0.7436, 0.9779], "nice": false, "zero": false}, "axis": {"values": [0.75, 0.8, 0.85, 0.9, 0.95], "labels": false, "ticks": false, "title": null, "grid": true}},
       "stroke": {"field": "m", "type": "nominal", "legend": null, "scale": {"domain": ["GEE(Act)", "RI(Act)", "RE(Act)", "RE(Act-Het)", "OLS", "OLS(Rob-Act)"], "range": ["#777", "#2a2a2a", "#b4b4b4", "#1a1a1a", "#1a1a1a", "#333"]}},
       "strokeDash": {"field": "m", "type": "nominal", "legend": null, "scale": {"domain": ["GEE(Act)", "RI(Act)", "RE(Act)", "RE(Act-Het)", "OLS", "OLS(Rob-Act)"], "range": [[1, 1.5], [1, 0], [1, 0], [3, 2], [7, 4], [10, 3]]}},
       "strokeWidth": {"field": "m", "type": "nominal", "legend": null, "scale": {"type": "ordinal", "domain": ["GEE(Act)", "RI(Act)", "RE(Act)", "RE(Act-Het)", "OLS", "OLS(Rob-Act)"], "range": [1, 1.3, 1.3, 1.4, 1.6, 1.2]}}
      }},
     {"transform": [{"filter": "datum.p == 'iii' && datum.c == '80%'"}], "mark": {"type": "point", "filled": true, "opacity": 1, "stroke": "#222", "strokeWidth": 0.6},
      "encoding": {
       "x": {"field": "x", "type": "quantitative"},
       "y": {"field": "y", "type": "quantitative"},
       "shape": {"field": "m", "type": "nominal", "legend": null, "scale": {"domain": ["GEE(Act)", "RI(Act)", "RE(Act)", "RE(Act-Het)", "OLS", "OLS(Rob-Act)"], "range": ["square", "square", "circle", "triangle-up", "diamond", "square"]}},
       "fill": {"field": "m", "type": "nominal", "legend": null, "scale": {"domain": ["GEE(Act)", "RI(Act)", "RE(Act)", "RE(Act-Het)", "OLS", "OLS(Rob-Act)"], "range": ["#111", "#333", "#111", "#111", "#111", "white"]}},
       "size": {"field": "m", "type": "nominal", "legend": null, "scale": {"type": "ordinal", "domain": ["GEE(Act)", "RI(Act)", "RE(Act)", "RE(Act-Het)", "OLS", "OLS(Rob-Act)"], "range": [30, 5, 30, 30, 40, 28]}}
      }},
     {"data": {"values": [{"s": "80%"}]}, "mark": {"type": "rect", "fill": "white", "stroke": "#333", "strokeWidth": 1.2}, "encoding": {"y": {"datum": 0.9635}, "y2": {"datum": 0.9779}}},
     {"data": {"values": [{"s": "80%"}]}, "mark": {"type": "text", "fontSize": 11, "color": "#333", "baseline": "middle"}, "encoding": {"y": {"datum": 0.9707}, "text": {"field": "s"}}}
    ]}
   ]},
   {"width": 398, "height": 32, "view": {"stroke": null},
    "title": {"text": "Mean of Never-Takers", "orient": "top", "anchor": "middle", "offset": 7},
    "data": {"name": "L"}, "transform": [{"filter": "datum.p == 'iii'"}],
    "encoding": {
     "x": {"field": "lc", "type": "ordinal", "scale": {"type": "band", "paddingInner": 0, "paddingOuter": 0.2009, "align": 0.234}, "axis": null},
     "y": {"field": "lr", "type": "ordinal", "scale": {"type": "band", "paddingInner": 0, "paddingOuter": 0}, "axis": null}
    },
    "layer": [
     {"mark": {"type": "rule", "xOffset": -58.5, "x2Offset": -15.5},
      "encoding": {"x2": {"field": "lc"},
       "stroke": {"field": "m", "type": "nominal", "legend": null, "scale": {"domain": ["GEE(Act)", "RI(Act)", "RE(Act)", "RE(Act-Het)", "OLS", "OLS(Rob-Act)"], "range": ["#777", "#2a2a2a", "#b4b4b4", "#1a1a1a", "#1a1a1a", "#333"]}},
       "strokeDash": {"field": "m", "type": "nominal", "legend": null, "scale": {"domain": ["GEE(Act)", "RI(Act)", "RE(Act)", "RE(Act-Het)", "OLS", "OLS(Rob-Act)"], "range": [[1, 1.5], [1, 0], [1, 0], [3, 2], [7, 4], [10, 3]]}},
       "strokeWidth": {"field": "m", "type": "nominal", "legend": null, "scale": {"type": "ordinal", "domain": ["GEE(Act)", "RI(Act)", "RE(Act)", "RE(Act-Het)", "OLS", "OLS(Rob-Act)"], "range": [1, 1.3, 1.3, 1.4, 1.6, 1.2]}}}},
     {"mark": {"type": "point", "filled": true, "opacity": 1, "stroke": "#222", "strokeWidth": 0.6, "xOffset": -37},
      "encoding": {
       "shape": {"field": "m", "type": "nominal", "legend": null, "scale": {"domain": ["GEE(Act)", "RI(Act)", "RE(Act)", "RE(Act-Het)", "OLS", "OLS(Rob-Act)"], "range": ["square", "square", "circle", "triangle-up", "diamond", "square"]}},
       "fill": {"field": "m", "type": "nominal", "legend": null, "scale": {"domain": ["GEE(Act)", "RI(Act)", "RE(Act)", "RE(Act-Het)", "OLS", "OLS(Rob-Act)"], "range": ["#111", "#333", "#111", "#111", "#111", "white"]}},
       "size": {"field": "m", "type": "nominal", "legend": null, "scale": {"type": "ordinal", "domain": ["GEE(Act)", "RI(Act)", "RE(Act)", "RE(Act-Het)", "OLS", "OLS(Rob-Act)"], "range": [30, 5, 30, 30, 40, 28]}}}},
     {"mark": {"type": "text", "align": "left", "baseline": "middle", "xOffset": -7.5, "fontSize": 11.5, "color": "#222"}, "encoding": {"text": {"field": "lab"}}}
    ]}
  ]}
 ]}
 ]}
]
}
